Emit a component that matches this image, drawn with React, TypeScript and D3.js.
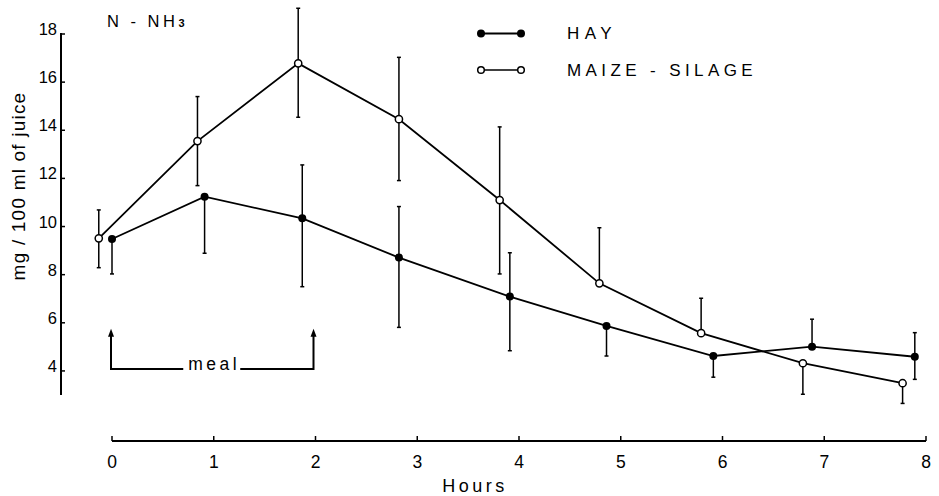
import React from "react";
import * as d3 from "d3";

// ---- data ----
const hourTicks = [0, 1, 2, 3, 4, 5, 6, 7, 8];
const yTicks = [4, 6, 8, 10, 12, 14, 16, 18];

const hayTime = [0.0, 0.91, 1.87, 2.82, 3.91, 4.86, 5.91, 6.88, 7.89];
const hayValue = [9.48, 11.24, 10.34, 8.71, 7.09, 5.87, 4.62, 5.01, 4.59];
const hayUpper: (number | null)[] = [null, null, 12.56, 10.83, 8.91, null, null, 6.15, 5.59];
const hayLower: (number | null)[] = [8.03, 8.89, 7.5, 5.81, 4.84, 4.62, 3.74, null, 3.65];

const maizeTime = [-0.13, 0.84, 1.83, 2.82, 3.81, 4.79, 5.79, 6.79, 7.77];
const maizeValue = [9.51, 13.55, 16.78, 14.46, 11.1, 7.64, 5.57, 4.32, 3.49];
const maizeUpper: (number | null)[] = [10.69, 15.4, 19.07, 17.03, 14.14, 9.95, 7.02, null, null];
const maizeLower: (number | null)[] = [8.29, 11.7, 14.54, 11.91, 8.03, null, null, 3.03, 2.65];

const mealHours = [0, 2];
const seriesNames = ["HAY", "MAIZE - SILAGE"];

const FONT = "'Liberation Sans', Arial, sans-serif";

export default function App() {
  const W = 939;
  const H = 496;
  const x = d3.scaleLinear().domain([0, 8]).range([112, 926]);
  const y = d3.scaleLinear().domain([3, 18]).range([395, 34]);

  const line = d3
    .line<[number, number]>()
    .x((d) => x(d[0]))
    .y((d) => y(d[1]));

  const hayPts: [number, number][] = hayTime.map((t, i) => [t, hayValue[i]]);
  const maizePts: [number, number][] = maizeTime.map((t, i) => [t, maizeValue[i]]);

  const errBars = (
    times: number[],
    vals: number[],
    up: (number | null)[],
    lo: (number | null)[],
    key: string
  ) =>
    times.map((t, i) => {
      const cx = x(t);
      const top = up[i] != null ? (up[i] as number) : vals[i];
      const bot = lo[i] != null ? (lo[i] as number) : vals[i];
      return (
        <g key={key + i} stroke="#000" strokeWidth={1.5}>
          <line x1={cx} x2={cx} y1={y(top)} y2={y(bot)} />
          {up[i] != null && <line x1={cx - 2} x2={cx + 2} y1={y(top)} y2={y(top)} />}
          {lo[i] != null && <line x1={cx - 2} x2={cx + 2} y1={y(bot)} y2={y(bot)} />}
        </g>
      );
    });

  const mealY = y(4.08);
  const arrowTop = y(5.75);
  const m0 = x(mealHours[0]) - 1;
  const m1 = x(mealHours[1]) - 2;
  const mealMid = (m0 + m1) / 2;

  return (
    <svg
      width={W}
      height={H}
      style={{ position: "absolute", left: 0, top: 0, background: "#fff" }}
      fontFamily={FONT}
    >
      <rect width={W} height={H} fill="#fff" />

      {/* y axis */}
      <line x1={61} x2={61} y1={y(18) - 1} y2={y(3)} stroke="#000" strokeWidth={2} />
      {yTicks.map((t) => (
        <g key={"yt" + t}>
          <line x1={61} x2={65} y1={y(t)} y2={y(t)} stroke="#000" strokeWidth={1.5} />
          <text x={57} y={y(t) + 1} textAnchor="end" fontSize={16.5} fill="#000">
            {t}
          </text>
        </g>
      ))}
      <text
        transform={`translate(25, 186) rotate(-90)`}
        textAnchor="middle"
        fontSize={19}
        letterSpacing={1.2}
        fill="#000"
      >
        mg / 100 ml of juice
      </text>

      {/* x axis */}
      <line x1={x(0)} x2={x(8)} y1={441} y2={441} stroke="#000" strokeWidth={2} />
      {hourTicks.map((h) => (
        <g key={"xt" + h}>
          <line x1={x(h)} x2={x(h)} y1={441} y2={436} stroke="#000" strokeWidth={1.5} />
          <text x={x(h)} y={468} textAnchor="middle" fontSize={17.5} fill="#000">
            {h}
          </text>
        </g>
      ))}
      <text x={475} y={492} textAnchor="middle" fontSize={18} letterSpacing={3.5} fill="#000">
        Hours
      </text>

      {/* title */}
      <text x={107} y={27} fontSize={16.5} letterSpacing={3.5} fill="#000">
        N - NH<tspan fontSize={11} fontWeight="bold">3</tspan>
      </text>

      {/* meal annotation */}
      <g stroke="#000" strokeWidth={2} fill="none">
        <path d={`M${m0},${arrowTop + 6} L${m0},${mealY} L${mealMid - 29},${mealY}`} />
        <path d={`M${mealMid + 28},${mealY} L${m1},${mealY} L${m1},${arrowTop + 6}`} />
      </g>
      <path d={`M${m0 - 3},${arrowTop + 8} L${m0},${arrowTop} L${m0 + 3},${arrowTop + 8} Z`} fill="#000" />
      <path d={`M${m1 - 3},${arrowTop + 8} L${m1},${arrowTop} L${m1 + 3},${arrowTop + 8} Z`} fill="#000" />
      <text x={mealMid + 2} y={mealY + 1} textAnchor="middle" fontSize={17.5} letterSpacing={3.5} fill="#000">
        meal
      </text>

      {/* error bars */}
      {errBars(maizeTime, maizeValue, maizeUpper, maizeLower, "me")}
      {errBars(hayTime, hayValue, hayUpper, hayLower, "he")}

      {/* lines */}
      <path d={line(maizePts) || ""} fill="none" stroke="#000" strokeWidth={1.8} />
      <path d={line(hayPts) || ""} fill="none" stroke="#000" strokeWidth={1.8} />

      {/* markers */}
      {maizePts.map((p, i) => (
        <circle key={"mc" + i} cx={x(p[0])} cy={y(p[1])} r={3.6} fill="#fff" stroke="#000" strokeWidth={1.5} />
      ))}
      {hayPts.map((p, i) => (
        <circle key={"hc" + i} cx={x(p[0])} cy={y(p[1])} r={4} fill="#000" />
      ))}

      {/* legend */}
      <g>
        <line x1={481} x2={521} y1={33.5} y2={33.5} stroke="#000" strokeWidth={1.8} />
        <circle cx={481} cy={33.5} r={4} fill="#000" />
        <circle cx={521} cy={33.5} r={4} fill="#000" />
        <text x={567} y={39} fontSize={17} letterSpacing={5.5} fill="#000">
          {seriesNames[0]}
        </text>
        <line x1={481} x2={521} y1={70} y2={70} stroke="#000" strokeWidth={1.5} />
        <circle cx={481} cy={70} r={3.3} fill="#fff" stroke="#000" strokeWidth={1.5} />
        <circle cx={521} cy={70} r={3.3} fill="#fff" stroke="#000" strokeWidth={1.5} />
        <text x={567} y={76} fontSize={17} letterSpacing={4.4} fill="#000">
          {seriesNames[1]}
        </text>
      </g>
    </svg>
  );
}
